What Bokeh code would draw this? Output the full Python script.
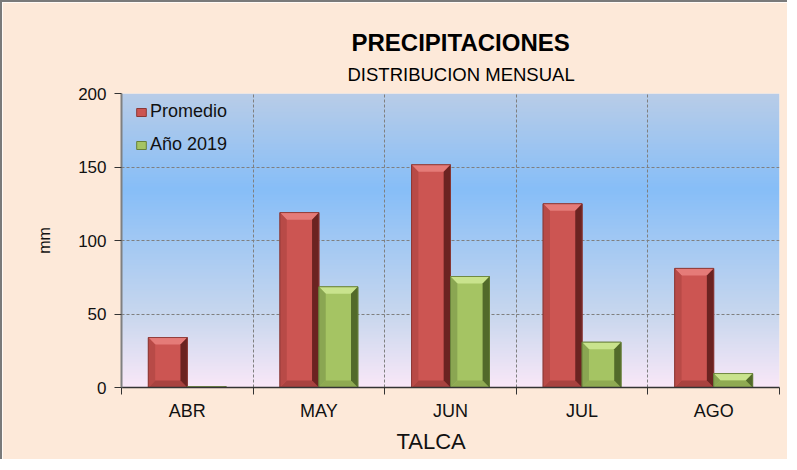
import numpy as np
from bokeh.plotting import figure
from bokeh.models import (ColumnDataSource, FixedTicker, Legend, LegendItem, Title)
from bokeh.embed import file_html
from bokeh.resources import INLINE

# ---- data ----
categories = ["ABR", "MAY", "JUN", "JUL", "AGO"]
promedio = [34, 119, 151.5, 125, 81]
anio_2019 = [0.5, 68.5, 75.5, 30.8, 9.5]
series_names = ["Promedio", "Año 2019"]
y_ticks = [0, 50, 100, 150, 200]

FONT = "Liberation Sans"
BG = "#FDE9D9"

p = figure(width=787, height=459, output_backend="svg", toolbar_location=None,
           x_range=(-0.5, len(categories) - 0.5), y_range=(0, 200),
           min_border_left=119, min_border_top=91, min_border_right=10,
           min_border_bottom=74, title=None)
p.styles = {"border-top": "2px solid #7a7a7a", "border-left": "2px solid #7a7a7a"}
p.border_fill_color = BG
p.background_fill_color = BG
p.outline_line_color = None

# gradient plot-area background (style only)
stops_v = np.array([0, 50, 135, 200], dtype=float)
stops_c = np.array([[250, 232, 248], [200, 215, 238], [135, 190, 248], [185, 205, 232]], dtype=float)
n = 200
yy = np.linspace(0, 200, n)
img = np.zeros((n, 1), dtype=np.uint32)
view = img.view(dtype=np.uint8).reshape((n, 1, 4))
for k in range(3):
    view[:, 0, k] = np.interp(yy, stops_v, stops_c[:, k]).astype(np.uint8)
view[:, 0, 3] = 255
p.image_rgba(image=[img], x=-0.5, y=0, dw=len(categories), dh=200, level="image")

# bars with a bevel look
xc = np.arange(len(categories), dtype=float)
w = 0.296
offsets = [-w / 2, w / 2]
palettes = [
    dict(face="#CC5552", top="#E57B78", left="#B84A47", right="#6B2321", bottom="#A8423F", line="#8A3836"),
    dict(face="#A5C463", top="#C9E38D", left="#8AA652", right="#526A2A", bottom="#8FAA52", line="#66803A"),
]
bx = 0.052
legend_items = []
for vals, off, pal, name in zip([promedio, anio_2019], offsets, palettes, series_names):
    v = np.array(vals, dtype=float)
    xl = xc + off - w / 2
    xr = xl + w
    by = np.minimum(4.8, v / 2)
    src = ColumnDataSource(dict(x=xc + off, top=v))
    base = p.vbar(x="x", top="top", width=w, bottom=0, source=src,
                  fill_color=pal["face"], line_color=pal["line"], line_width=1)
    top_xs = [[a, b, b - bx, a + bx] for a, b in zip(xl, xr)]
    top_ys = [[t, t, t - d, t - d] for t, d in zip(v, by)]
    bot_ys = [[0, 0, d, d] for d in by]
    left_xs = [[a, a, a + bx, a + bx] for a in xl]
    right_xs = [[b, b, b - bx, b - bx] for b in xr]
    side_ys = [[0, t, t - d, d] for t, d in zip(v, by)]
    p.patches(top_xs, top_ys, fill_color=pal["top"], line_color=None)
    p.patches(top_xs, bot_ys, fill_color=pal["bottom"], line_color=None)
    p.patches(left_xs, side_ys, fill_color=pal["left"], line_color=None)
    p.patches(right_xs, side_ys, fill_color=pal["right"], line_color=None)
    p.quad(left=xl, right=xr, bottom=0, top=v, fill_color=None,
           line_color=pal["line"], line_width=1, line_alpha=0.8)
    legend_items.append(LegendItem(label=name, renderers=[base]))

# axes
p.xaxis.ticker = FixedTicker(ticks=list(range(len(categories))),
                             minor_ticks=[i - 0.5 for i in range(len(categories) + 1)])
p.xaxis.major_label_overrides = {i: c for i, c in enumerate(categories)}
p.xaxis.major_tick_line_color = None
p.xaxis.major_tick_out = 0
p.xaxis.major_tick_in = 0
p.xaxis.minor_tick_out = 7
p.xaxis.minor_tick_in = 0
p.xaxis.minor_tick_line_color = "#333333"
p.xaxis.axis_line_color = "#333333"
p.xaxis.axis_line_width = 1.5
p.xaxis.major_label_standoff = 6
p.xaxis.major_label_text_font = FONT
p.xaxis.major_label_text_font_size = "18px"
p.xaxis.major_label_text_color = "#111111"

p.yaxis.ticker = FixedTicker(ticks=y_ticks, minor_ticks=[])
p.yaxis.axis_line_color = "#808080"
p.yaxis.axis_line_width = 2
p.yaxis.major_tick_out = 7
p.yaxis.major_tick_in = 0
p.yaxis.major_tick_line_color = "#333333"
p.yaxis.major_label_standoff = 8
p.yaxis.major_label_text_font = FONT
p.yaxis.major_label_text_font_size = "17px"
p.yaxis.major_label_text_color = "#111111"
p.yaxis.axis_label = "mm"
p.yaxis.axis_label_text_font = FONT
p.yaxis.axis_label_text_font_style = "normal"
p.yaxis.axis_label_text_font_size = "16px"
p.yaxis.axis_label_text_color = "#111111"
p.yaxis.axis_label_standoff = 22

# grids
p.xgrid.ticker = FixedTicker(ticks=[i + 0.5 for i in range(len(categories))])
p.ygrid.ticker = FixedTicker(ticks=y_ticks[1:])
for g in (p.xgrid, p.ygrid):
    g.grid_line_color = "#7f7f7f"
    g.grid_line_dash = "3 2"
    g.grid_line_width = 1

# legend
legend = Legend(items=legend_items, location=(14, 232), background_fill_alpha=0,
                border_line_color=None, margin=0, padding=4, spacing=12,
                glyph_width=12, glyph_height=10, label_height=20,
                label_standoff=3, label_text_font=FONT, label_text_font_size="18px",
                label_text_color="#111111")
p.add_layout(legend)

# titles (first added sits nearest the frame)
p.add_layout(Title(text="DISTRIBUCION MENSUAL", text_font=FONT, text_font_size="18.5px",
                   text_font_style="normal", text_color="#000000",
                   align="left", offset=226, standoff=17), "above")
p.add_layout(Title(text="PRECIPITACIONES", text_font=FONT, text_font_size="24px",
                   text_font_style="bold", text_color="#000000",
                   align="left", offset=230, standoff=-4), "above")
p.add_layout(Title(text="TALCA", text_font=FONT, text_font_size="22px",
                   text_font_style="normal", text_color="#111111",
                   align="left", offset=275, standoff=6), "below")

open("out.html", "w").write(file_html(p, INLINE))
